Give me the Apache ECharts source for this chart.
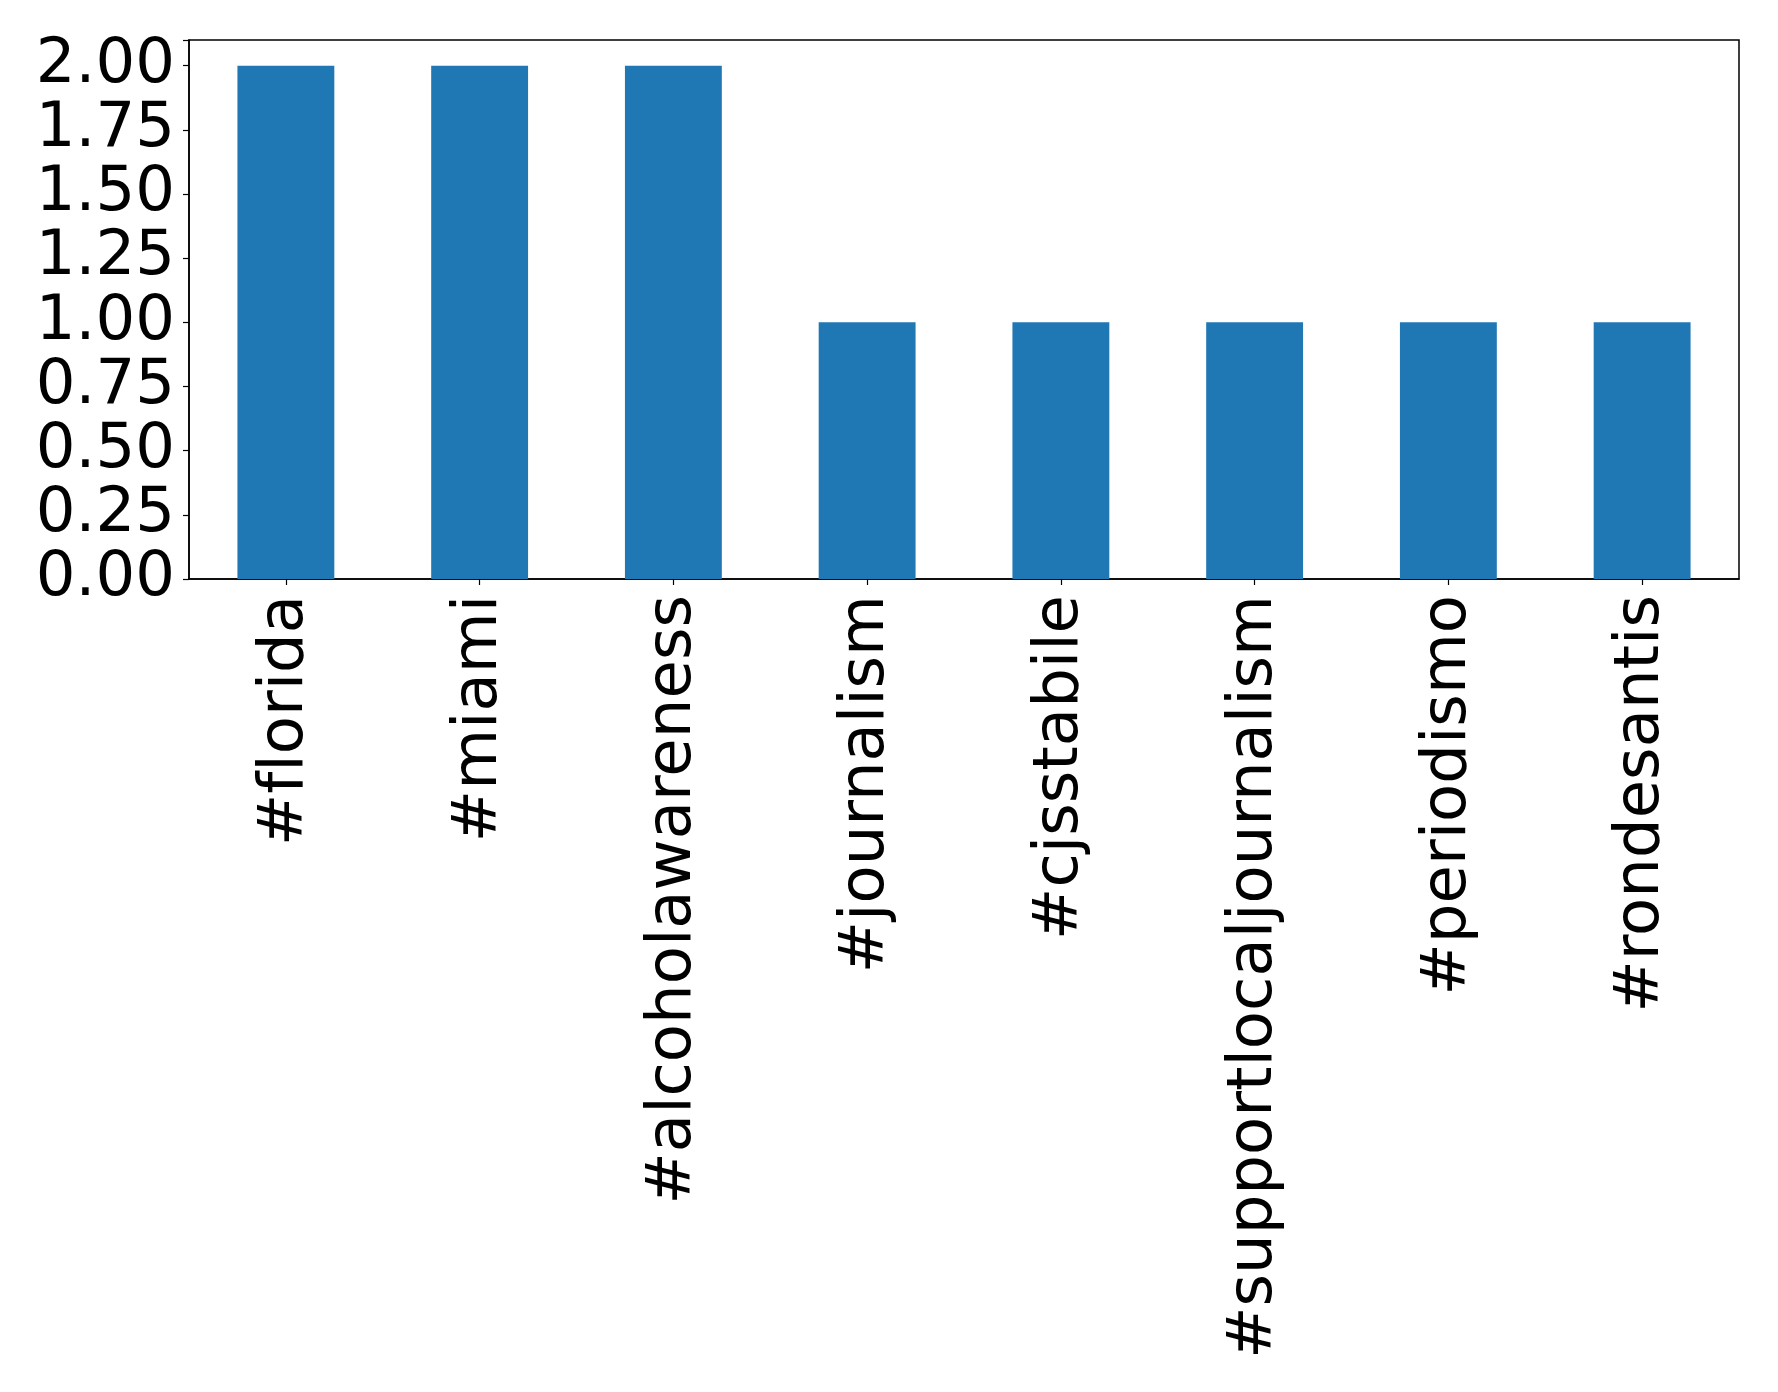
<!DOCTYPE html>
<html>
<head>
<meta charset="utf-8">
<script src="https://cdn.jsdelivr.net/npm/echarts@6/dist/echarts.min.js"></script>
<style>html,body{margin:0;padding:0;background:#fff}#c{width:1778px;height:1392px;font-variant-ligatures:none}#c canvas{font-variant-ligatures:none}</style>
</head>
<body>
<div id="c"></div>
<script>
const categories = ['#florida','#miami','#alcoholawareness','#journalism','#cjsstabile','#supportlocaljournalism','#periodismo','#rondesantis'];
const values = [2, 2, 2, 1, 1, 1, 1, 1];
const yTicks = [0, 0.25, 0.5, 0.75, 1.0, 1.25, 1.5, 1.75, 2.0];

const chart = echarts.init(document.getElementById('c'), null, {renderer: 'canvas'});
chart.setOption({
  animation: false,
  backgroundColor: '#fff',
  grid: {left: 189, right: 39, top: 40, bottom: 813, show: true, borderColor: '#000', borderWidth: 1.5, backgroundColor: 'transparent'},
  xAxis: {
    type: 'category',
    data: categories,
    axisLine: {show: true, lineStyle: {color: '#000', width: 1.5}},
    axisTick: {show: true, alignWithLabel: true, length: 6, lineStyle: {color: '#000', width: 1.2}},
    axisLabel: {rotate: 90, fontFamily: 'DejaVu Sans', fontSize: 62.5, color: '#000', margin: 16, interval: 0}
  },
  yAxis: {
    type: 'value',
    min: 0, max: 2.1, interval: 0.25,
    splitLine: {show: false},
    axisLine: {show: true, lineStyle: {color: '#000', width: 1.5}},
    axisTick: {show: true, length: 6, lineStyle: {color: '#000', width: 1.2}},
    axisLabel: {fontFamily: 'DejaVu Sans', fontSize: 62.5, color: '#000', margin: 14,
      formatter: v => yTicks.some(t => Math.abs(t - v) < 1e-9) ? v.toFixed(2) : ''}
  },
  series: [{
    type: 'bar',
    data: values,
    barWidth: '50%',
    itemStyle: {color: '#1f77b4'}
  }]
});
</script>
</body>
</html>
